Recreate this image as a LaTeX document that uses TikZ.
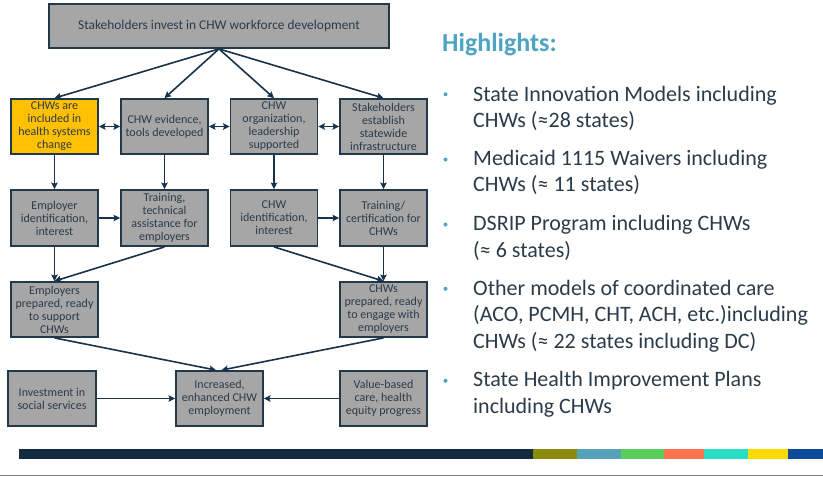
\documentclass[tikz,border=0pt]{standalone}
\usepackage{fontspec}
\usetikzlibrary{arrows.meta}
\setmainfont{Carlito}
\definecolor{boxgray}{HTML}{A6A6A6}
\definecolor{edge}{HTML}{22394C}
\definecolor{arrowc}{HTML}{17324A}
\definecolor{ink}{HTML}{2B3B4A}
\definecolor{hilite}{HTML}{4DA4BF}
\definecolor{gold}{HTML}{FFC000}
\definecolor{navy}{HTML}{132B41}
\begin{document}
\begin{tikzpicture}[>={Stealth[length=6.5pt,width=6.5pt,inset=1pt]},x=1pt,y=-1pt,
  box/.style={draw=edge,line width=1.8pt,fill=boxgray,text=ink,align=center,inner sep=0pt,
    minimum width=87pt,minimum height=55pt,font=\fontsize{12}{13}\selectfont},
  arr/.style={->,line width=1.6pt,draw=arrowc},
  dbl/.style={<->,line width=1.6pt,draw=arrowc},
  item/.style={anchor=base west,align=left,inner sep=0pt,text=ink,font=\fontsize{22}{26.5}\selectfont}]
\useasboundingbox (0,0) rectangle (823,477);
\node[box,minimum width=340pt,minimum height=44pt,font=\fontsize{13.4}{15}\selectfont](top) at (219,26){Stakeholders invest in CHW workforce development};
\node[box,fill=gold](sys) at (54.5,126.5){CHWs are\\included in\\health systems\\change};
\node[box](evid) at (164.5,126.5){CHW evidence,\\tools developed};
\node[box](org) at (274,126.5){CHW\\organization,\\leadership\\supported};
\node[box](infra) at (383.5,126.5){Stakeholders\\establish\\statewide\\infrastructure};
\node[box,minimum height=56pt](empid) at (54.5,218){Employer\\identification,\\interest};
\node[box,minimum height=56pt](ta) at (164.5,218){Training,\\technical\\assistance for\\employers};
\node[box,minimum height=56pt](chwid) at (274,218){CHW\\identification,\\interest};
\node[box,minimum height=56pt](cert) at (383.5,218){Training/\\certification for\\CHWs};
\node[box](empready) at (54.5,309.5){Employers\\prepared, ready\\to support\\CHWs};
\node[box](chwready) at (383.5,309.5){CHWs\\prepared, ready\\to engage with\\employers};
\node[box,minimum width=88pt](invest) at (52,398.5){Investment in\\social services};
\node[box](employ) at (219.5,398.5){Increased,\\enhanced CHW\\employment};
\node[box](value) at (383.5,398.5){Value-based\\care, health\\equity progress};
\foreach \b in {sys,evid,org,infra}
  \draw[arr](top.south)--(\b.north);
\draw[dbl](sys)--(evid);
\draw[dbl](evid)--(org);
\draw[dbl](org)--(infra);
\draw[arr](sys)--(empid);
\draw[arr](evid)--(ta);
\draw[arr](org)--(chwid);
\draw[arr](infra)--(cert);
\draw[arr](empid)--(ta);
\draw[arr](chwid)--(cert);
\draw[arr](empid)--(empready);
\draw[arr](ta.south)--(empready.north);
\draw[arr](chwid.south)--(chwready.north);
\draw[arr](cert)--(chwready);
\draw[arr](empready.south)--([xshift=-3.5pt]employ.north);
\draw[arr](chwready.south)--([xshift=2pt]employ.north);
\draw[arr](invest)--(employ);
\draw[arr](value)--(employ);
% highlights
\node[anchor=base west,inner sep=0pt,text=hilite,font=\fontsize{26}{30}\selectfont\bfseries](hl) at (442,51.5){Highlights:};
\node[item](i1) at (473,127.7){State Innovation Models including\\CHWs (≈28 states)};
\node[item](i2) at (473,191.7){Medicaid 1115 Waivers including\\CHWs (≈ 11 states)};
\node[item](i3) at (473,257){DSRIP Program including CHWs\\(≈ 6 states)};
\node[item](i4) at (473,348){Other models of coordinated care\\(ACO, PCMH, CHT, ACH, etc.)including\\CHWs (≈ 22 states including DC)};
\node[item](i5) at (473,413){State Health Improvement Plans\\including CHWs};
\foreach \y in {94.3,159.5,224.5,288.8,380.8}
  \fill[hilite](445.5,\y) circle (2);
% footer
\fill[navy] (19,449) rectangle (533,459);
\foreach \a/\b/\c in {533/577/8B8B0B,577/621/55A2B8,621/664/5ACD5C,664/704/FF7350,704/748/27DDC6,748/788/FBDA00,788/823/0E4B9B}{
  \definecolor{seg}{HTML}{\c}
  \fill[seg] (\a,449) rectangle (\b,459);}
\draw[gray,line width=1pt](0,475.5)--(823,475.5);
\end{tikzpicture}
\end{document}
